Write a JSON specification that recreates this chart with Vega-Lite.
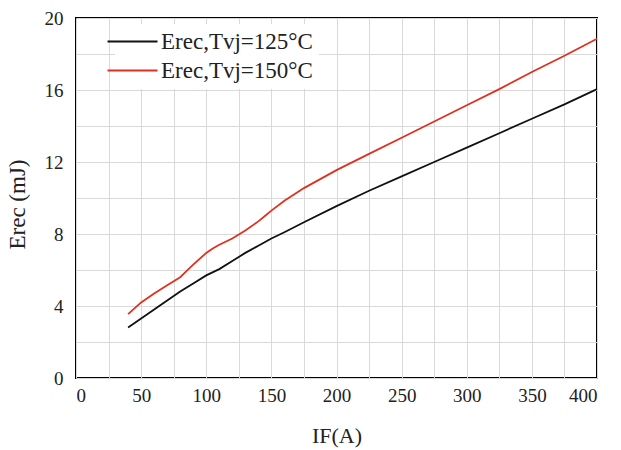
{
  "$schema": "https://vega.github.io/schema/vega-lite/v6.json",
  "width": 521,
  "height": 360,
  "autosize": {"type": "none"},
  "padding": {"left": 76, "top": 18, "right": 24, "bottom": 72},
  "background": "white",
  "config": {
    "font": "Liberation Serif",
    "view": {"stroke": "black", "strokeWidth": 2},
    "axis": {
      "grid": true,
      "gridColor": "#d9d9d9",
      "gridWidth": 1,
      "domain": false,
      "ticks": false,
      "labelFont": "Liberation Serif",
      "labelFontSize": 19,
      "labelColor": "#222222",
      "titleFont": "Liberation Serif",
      "titleFontSize": 22,
      "titleFontWeight": "normal",
      "titleColor": "#222222"
    }
  },
  "data": {
    "values": [
      {"x": 40, "y": 2.8, "s": "Erec,Tvj=125°C"},
      {"x": 50, "y": 3.3, "s": "Erec,Tvj=125°C"},
      {"x": 60, "y": 3.8, "s": "Erec,Tvj=125°C"},
      {"x": 70, "y": 4.3, "s": "Erec,Tvj=125°C"},
      {"x": 80, "y": 4.8, "s": "Erec,Tvj=125°C"},
      {"x": 90, "y": 5.25, "s": "Erec,Tvj=125°C"},
      {"x": 100, "y": 5.7, "s": "Erec,Tvj=125°C"},
      {"x": 110, "y": 6.05, "s": "Erec,Tvj=125°C"},
      {"x": 120, "y": 6.5, "s": "Erec,Tvj=125°C"},
      {"x": 130, "y": 6.95, "s": "Erec,Tvj=125°C"},
      {"x": 140, "y": 7.35, "s": "Erec,Tvj=125°C"},
      {"x": 150, "y": 7.75, "s": "Erec,Tvj=125°C"},
      {"x": 160, "y": 8.1, "s": "Erec,Tvj=125°C"},
      {"x": 175, "y": 8.65, "s": "Erec,Tvj=125°C"},
      {"x": 200, "y": 9.55, "s": "Erec,Tvj=125°C"},
      {"x": 225, "y": 10.4, "s": "Erec,Tvj=125°C"},
      {"x": 250, "y": 11.2, "s": "Erec,Tvj=125°C"},
      {"x": 275, "y": 12.0, "s": "Erec,Tvj=125°C"},
      {"x": 300, "y": 12.8, "s": "Erec,Tvj=125°C"},
      {"x": 325, "y": 13.6, "s": "Erec,Tvj=125°C"},
      {"x": 350, "y": 14.4, "s": "Erec,Tvj=125°C"},
      {"x": 375, "y": 15.2, "s": "Erec,Tvj=125°C"},
      {"x": 400, "y": 16.05, "s": "Erec,Tvj=125°C"},
      {"x": 40, "y": 3.55, "s": "Erec,Tvj=150°C"},
      {"x": 50, "y": 4.2, "s": "Erec,Tvj=150°C"},
      {"x": 60, "y": 4.7, "s": "Erec,Tvj=150°C"},
      {"x": 70, "y": 5.15, "s": "Erec,Tvj=150°C"},
      {"x": 80, "y": 5.6, "s": "Erec,Tvj=150°C"},
      {"x": 85, "y": 5.95, "s": "Erec,Tvj=150°C"},
      {"x": 90, "y": 6.3, "s": "Erec,Tvj=150°C"},
      {"x": 100, "y": 6.95, "s": "Erec,Tvj=150°C"},
      {"x": 105, "y": 7.2, "s": "Erec,Tvj=150°C"},
      {"x": 110, "y": 7.4, "s": "Erec,Tvj=150°C"},
      {"x": 120, "y": 7.75, "s": "Erec,Tvj=150°C"},
      {"x": 130, "y": 8.2, "s": "Erec,Tvj=150°C"},
      {"x": 140, "y": 8.7, "s": "Erec,Tvj=150°C"},
      {"x": 145, "y": 9.0, "s": "Erec,Tvj=150°C"},
      {"x": 150, "y": 9.3, "s": "Erec,Tvj=150°C"},
      {"x": 160, "y": 9.85, "s": "Erec,Tvj=150°C"},
      {"x": 175, "y": 10.55, "s": "Erec,Tvj=150°C"},
      {"x": 200, "y": 11.55, "s": "Erec,Tvj=150°C"},
      {"x": 225, "y": 12.45, "s": "Erec,Tvj=150°C"},
      {"x": 250, "y": 13.35, "s": "Erec,Tvj=150°C"},
      {"x": 275, "y": 14.25, "s": "Erec,Tvj=150°C"},
      {"x": 300, "y": 15.15, "s": "Erec,Tvj=150°C"},
      {"x": 325, "y": 16.05, "s": "Erec,Tvj=150°C"},
      {"x": 350, "y": 17.0, "s": "Erec,Tvj=150°C"},
      {"x": 375, "y": 17.9, "s": "Erec,Tvj=150°C"},
      {"x": 400, "y": 18.85, "s": "Erec,Tvj=150°C"}
    ]
  },
  "mark": {"type": "line", "strokeWidth": 1.8},
  "encoding": {
    "x": {
      "field": "x", "type": "quantitative",
      "scale": {"domain": [0, 400], "nice": false},
      "axis": {
        "title": "IF(A)",
        "values": [0, 25, 50, 75, 100, 125, 150, 175, 200, 225, 250, 275, 300, 325, 350, 375, 400],
        "labelExpr": "datum.value % 50 === 0 ? datum.label : ''",
        "labelPadding": 8,
        "titlePadding": 20
      }
    },
    "y": {
      "field": "y", "type": "quantitative",
      "scale": {"domain": [0, 20], "nice": false},
      "axis": {
        "title": "Erec (mJ)",
        "titleFontSize": 23,
        "titleY": 186,
        "values": [0, 2, 4, 6, 8, 10, 12, 14, 16, 18, 20],
        "labelExpr": "datum.value % 4 === 0 ? datum.label : ''",
        "labelPadding": 13,
        "titlePadding": 15
      }
    },
    "color": {
      "field": "s", "type": "nominal",
      "scale": {"domain": ["Erec,Tvj=125°C", "Erec,Tvj=150°C"], "range": ["#111111", "#e03020"]},
      "legend": {
        "title": null,
        "orient": "none",
        "legendX": 39,
        "legendY": 6,
        "symbolType": "M-5,0H5",
        "symbolSize": 100,
        "symbolStrokeWidth": 2,
        "labelFont": "Liberation Serif",
        "labelFontSize": 23,
        "labelColor": "#222222",
        "labelOffset": 17,
        "rowPadding": 5,
        "fillColor": "white",
        "padding": 6
      }
    }
  }
}
